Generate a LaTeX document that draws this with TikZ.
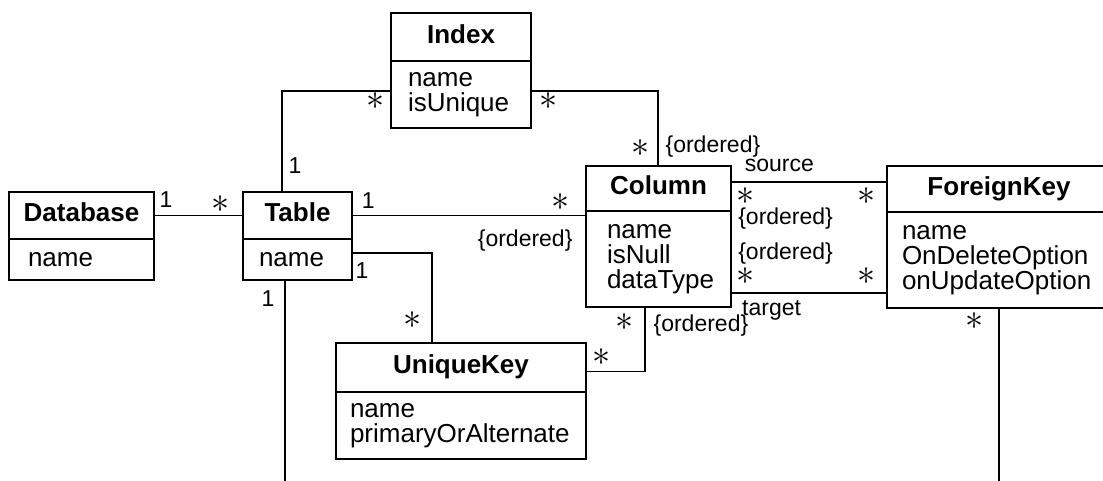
\documentclass[tikz,border=0pt]{standalone}
\usepackage{fontspec}
\setmainfont{Liberation Sans}
\usetikzlibrary{positioning}

\newcommand{\many}{\scalebox{1.45}{$\ast$}}

\begin{document}
\begin{tikzpicture}[
  x=1pt, y=-1pt,
  line width=1.2pt,
  head/.style={draw, outer sep=0pt, inner sep=0pt, text height=19pt, text depth=7pt, font=\fontsize{26}{25}\selectfont\bfseries},
  attrs/.style={draw, outer sep=0pt, inner ysep=0pt, align=left, font=\fontsize{26}{25}\selectfont},
  mult/.style={font=\fontsize{23}{23}\selectfont, inner sep=1pt},
  many/.style={mult, text height=14pt, text depth=0pt},
  tag/.style={font=\fontsize{23}{23}\selectfont, inner sep=2pt}
]
  \clip (0,0) rectangle (1103,480);

  % classes: title box with the attribute box hung below it
  \node[head, minimum width=145pt, minimum height=47pt, anchor=north west] (database) at (9,192) {Database};
  \node[attrs, inner xsep=19pt, text width=107pt, minimum height=41pt, below=0pt of database] (databaseAttr) {name};

  \node[head, minimum width=109pt, minimum height=47pt, anchor=north west] (table) at (243,192) {Table};
  \node[attrs, inner xsep=16pt, text width=77pt, minimum height=41pt, below=0pt of table] (tableAttr) {name};

  \node[head, minimum width=140pt, minimum height=48pt, anchor=north west] (index) at (391,13) {Index};
  \node[attrs, inner xsep=17pt, text width=106pt, minimum height=67pt, below=0pt of index] (indexAttr) {name\\isUnique};

  \node[head, minimum width=145pt, minimum height=45pt, anchor=north west] (column) at (586,166) {Column};
  \node[attrs, inner xsep=21pt, text width=103pt, minimum height=96pt, below=0pt of column] (columnAttr) {name\\isNull\\dataType};

  \node[head, minimum width=224pt, minimum height=46pt, anchor=north west] (foreignKey) at (887,166) {ForeignKey};
  \node[attrs, inner xsep=15pt, text width=194pt, minimum height=96pt, below=0pt of foreignKey] (foreignKeyAttr) {name\\OnDeleteOption\\onUpdateOption};

  \node[head, minimum width=250pt, minimum height=49pt, anchor=north west] (uniqueKey) at (336,343) {UniqueKey};
  \node[attrs, inner xsep=14pt, text width=222pt, minimum height=67pt, below=0pt of uniqueKey] (uniqueKeyAttr) {name\\primaryOrAlternate};

  % loose ends running off the bottom
  \coordinate (tableEnd) at (285,482);
  \coordinate (keyEnd) at (999,482);

  % associations
  \draw (database) -- node[mult, pos=0.135, above=6pt] (m1) {1}
                      node[many, pos=0.75, above=1pt] (m2) {\many} (table);
  \draw (table.east) -- node[mult, pos=0.07, above=5pt] (m3) {1}
                        node[many, pos=0.89, above=3pt] (m4) {\many}
                        node[tag, pos=0.74, below=12pt] (t1) {\{ordered\}} (table.east -| columnAttr.west);
  \draw ([xshift=39pt]table.north west) |- node[mult, pos=0.13, right=5pt] (m5) {1}
                                           node[many, pos=0.93, below=3pt] (m6) {\many} ([yshift=-30pt]indexAttr.north west);
  \draw ([yshift=-30pt]indexAttr.north east) -| node[many, pos=0.07, below=3pt] (m7) {\many}
                                                node[many, pos=0.89, left=7pt] (m8) {\many}
                                                node[tag, pos=0.87, right=5pt] (t2) {\{ordered\}} ([xshift=72pt]column.north west);
  \draw ([yshift=-16pt]column.north east) -- node[tag, pos=0.31, above=8pt] (t3) {source}
                                             node[many, pos=0.09, below=7pt] (m9) {\many}
                                             node[tag, pos=0.35, below=23pt] (t4) {\{ordered\}}
                                             node[many, pos=0.87, below=7pt] (m10) {\many} ([yshift=-16pt]column.north east -| foreignKey.west);
  \draw ([yshift=14pt]columnAttr.south east) -- node[tag, pos=0.35, above=26pt] (t5) {\{ordered\}}
                                                node[many, pos=0.09, above=7pt] (m11) {\many}
                                                node[many, pos=0.87, above=7pt] (m12) {\many}
                                                node[tag, pos=0.26, below=5pt] (t6) {target} ([yshift=14pt]columnAttr.south east -| foreignKeyAttr.west);
  \draw ([yshift=-14pt]tableAttr.north east) -| node[mult, pos=0.0625, below=8pt] (m13) {1}
                                                node[many, pos=0.88, left=9pt] (m14) {\many} ([xshift=96pt]uniqueKey.north west);
  \draw ([xshift=59pt]columnAttr.south west) |- node[many, pos=0.127, left=10pt] (m16) {\many}
                                                node[tag, pos=0.14, right=6pt] (t7) {\{ordered\}}
                                                node[many, pos=0.87, above=4pt] (m17) {\many} ([yshift=-4pt]uniqueKey.east);
  \draw ([xshift=42pt]tableAttr.south west) -- node[mult, pos=0.094, left=9pt] (m15) {1} (tableEnd);
  \draw (foreignKeyAttr.south) -- node[many, pos=0.086, left=14pt] (m18) {\many} (keyEnd);
\end{tikzpicture}
\end{document}
